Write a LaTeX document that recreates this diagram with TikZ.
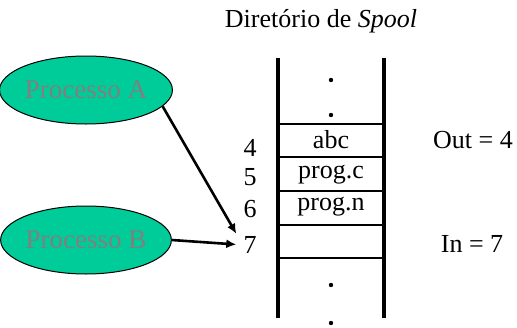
\documentclass[tikz,border=0pt]{standalone}
\usepackage{fontspec}
\setmainfont{Liberation Serif}
\usetikzlibrary{shapes.geometric,arrows.meta}
\definecolor{procverde}{RGB}{0,204,153}
\definecolor{proccinza}{RGB}{128,128,128}
\tikzset{
	processo/.style={ellipse, draw=black, line width=1pt, fill=procverde, text=proccinza,
		minimum width=156pt, minimum height=68pt, inner sep=0pt, text depth=0pt,
		font=\fontsize{27}{30}\selectfont},
	indice/.style={font=\fontsize{26}{30}\selectfont, anchor=base, inner xsep=7pt, inner ysep=2pt},
	rotulo/.style={font=\fontsize{26}{30}\selectfont, anchor=base, inner sep=0pt},
	seta/.style={-{Latex[length=10pt,width=9pt]}, line width=2.6pt},
}

\begin{document}
\begin{tikzpicture}[x=1pt,y=-1pt]
			\useasboundingbox (0,0) rectangle (517,327);
			\node[rotulo] (titulo) at (321,27) {Diretório de \textit{Spool}};
			%\fill[procverde, nearly transparent] (278,124) rectangle (384,258);
			\draw[line width=3.4pt] (278,58) -- (278,318);
			\draw[line width=3.4pt] (384,58) -- (384,318);
			\foreach \y in {124,157,191,225,258}
				\draw[line width=2.8pt] (278,\y) -- (384,\y);
			\foreach \y in {80,115,285,323}
				\fill (331,\y) circle (2.2pt);
			\node[rotulo] (abc) at (331,148) {abc};
			\node[rotulo] (progc) at (331,178) {prog.c};
			\node[rotulo] (progn) at (331,210) {prog.n};
			\node[indice] (n4) at (250,156) {4};
			\node[indice] (n5) at (250,185) {5};
			\node[indice] (n6) at (250,217) {6};
			\node[indice] (n7) at (250,253) {7};
			\node[rotulo] (out) at (473,148) {Out = 4};
			\node[rotulo] (in) at (472,252) {In = 7};
			\node[processo] (pa) at (86,90) {Processo A};
			\node[processo] (pb) at (86,240) {Processo B};
			\draw[seta] (pa.-12) -- (n7.north west);
			\draw[seta] (pb.east) -- (n7.west);
		\end{tikzpicture}
\end{document}
